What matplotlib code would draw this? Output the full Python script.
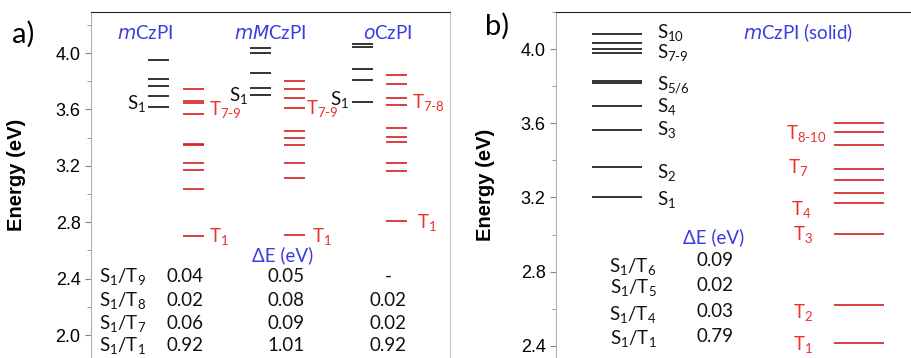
import matplotlib.pyplot as plt
from matplotlib.ticker import MultipleLocator

# -------- level energies (eV) --------
mczpi_s  = [3.948, 3.818, 3.766, 3.693, 3.615]
mczpi_t  = [3.743, 3.660, 3.643, 3.565, 3.355, 3.345, 3.222, 3.170, 3.035, 2.702]
mmczpi_s = [4.033, 4.002, 3.860, 3.750, 3.704]
mmczpi_t = [3.804, 3.743, 3.679, 3.612, 3.445, 3.397, 3.345, 3.218, 3.116, 2.709]
oczpi_s  = [4.066, 4.045, 3.884, 3.809, 3.650]
oczpi_t  = [3.842, 3.778, 3.679, 3.629, 3.466, 3.402, 3.371, 3.222, 3.161, 2.811]
solid_s  = [4.082, 4.031, 4.002, 3.977, 3.829, 3.818, 3.694, 3.563, 3.364, 3.201]
solid_t  = [3.599, 3.551, 3.482, 3.355, 3.294, 3.225, 3.171, 3.001, 2.620, 2.417]

# -------- S1-Tn gaps table --------
pairs_a    = ["S$_1$/T$_9$", "S$_1$/T$_8$", "S$_1$/T$_7$", "S$_1$/T$_1$"]
de_mczpi   = ["0.04", "0.02", "0.06", "0.92"]
de_mmczpi  = ["0.05", "0.08", "0.09", "1.01"]
de_oczpi   = ["-", "0.02", "0.02", "0.92"]
pairs_b    = ["S$_1$/T$_6$", "S$_1$/T$_5$", "S$_1$/T$_4$", "S$_1$/T$_1$"]
de_solid   = ["0.09", "0.02", "0.03", "0.79"]

BLACK = "#111111"
RED   = "#d81e1e"
RED_T = "#e8302c"
BLUE  = "#3b3be0"
TXT   = "Lato"

plt.rcParams["mathtext.default"] = "regular"
plt.rcParams["font.family"] = "Liberation Sans"

fig = plt.figure(figsize=(9.12, 3.58), dpi=100)
W, H = 912, 358

def make_axes(x0, x1, ylim):
    ax = fig.add_axes([x0 / W, 0, (x1 - x0) / W, 1 - 12 / H])
    ax.set_xlim(0, x1 - x0)
    ax.set_ylim(*ylim)
    ax.spines["bottom"].set_visible(False)
    ax.spines["left"].set_color("#b0b0b0")
    ax.spines["top"].set_color("#222222")
    ax.spines["right"].set_color("#c8c8c8")
    ax.set_xticks([])
    ax.yaxis.set_major_locator(MultipleLocator(0.4))
    ax.yaxis.set_minor_locator(MultipleLocator(0.2))
    ax.tick_params(axis="y", which="both", direction="out", color="#888888", labelsize=13)
    ax.tick_params(axis="y", which="major", length=4)
    ax.tick_params(axis="y", which="minor", length=3)
    ax.yaxis.set_major_formatter(plt.FormatStrFormatter("%.1f"))
    return ax

def txt(ax, x, y, s, color=BLACK, **kw):
    kw.setdefault("fontsize", 13.5)
    ax.text(x, y, s, color=color, family=TXT, **kw)

# ================= panel a =================
axa = make_axes(91, 450, (1.837, 4.291))
axa.set_ylabel("Energy (eV)", fontsize=14.5, fontweight="bold")
axa.yaxis.set_label_coords(-0.18, 0.53)

cols = [(mczpi_s, mczpi_t, 57, 92), (mmczpi_s, mmczpi_t, 159, 193), (oczpi_s, oczpi_t, 261, 295)]
for s, t, xs, xt in cols:
    axa.hlines(s, xs, xs + 21, color=BLACK, lw=1.2)
    axa.hlines(t, xt, xt + 21, color=RED, lw=1.2)

txt(axa, 54, 4.142, "$\\it{m}$CzPI", BLUE, ha="center", va="center")
txt(axa, 179, 4.142, "$\\it{mM}$CzPI", BLUE, ha="center", va="center")
txt(axa, 297, 4.142, "$\\it{o}$CzPI", BLUE, ha="center", va="center")

txt(axa, 55, 3.64, "S$_1$", ha="right", va="center")
txt(axa, 157, 3.70, "S$_1$", ha="right", va="center")
txt(axa, 258, 3.667, "S$_1$", ha="right", va="center")
txt(axa, 118, 3.60, "T$_{7\u20109}$", RED_T, va="center")
txt(axa, 215, 3.61, "T$_{7\u20109}$", RED_T, va="center")
txt(axa, 321, 3.65, "T$_{7\u20108}$", RED_T, va="center")
txt(axa, 118, 2.70, "T$_1$", RED_T, va="center")
txt(axa, 221, 2.70, "T$_1$", RED_T, va="center")
txt(axa, 326, 2.80, "T$_1$", RED_T, va="center")

txt(axa, 191.5, 2.567, "ΔE (eV)", BLUE, ha="center", va="center")
rows_a = [2.418, 2.248, 2.085, 1.929]
for i, y in enumerate(rows_a):
    txt(axa, 8, y, pairs_a[i], va="center")
    txt(axa, 94, y, de_mczpi[i], ha="center", va="center")
    txt(axa, 194.7, y, de_mmczpi[i], ha="center", va="center")
    txt(axa, 297, y, de_oczpi[i], ha="center", va="center")

# ================= panel b =================
axb = make_axes(556, 912, (2.334, 4.2))
axb.spines["right"].set_visible(False)
axb.set_ylabel("Energy (eV)", fontsize=14.5, fontweight="bold")
axb.yaxis.set_label_coords(-0.171, 0.5)

axb.hlines(solid_s, 36, 86, color=BLACK, lw=1.2)
axb.hlines(solid_t, 278, 328, color=RED, lw=1.2)

s_labels = ["S$_{10}$", "S$_{7\u20109}$", "S$_{5/6}$", "S$_4$", "S$_3$", "S$_2$", "S$_1$"]
s_label_y = [4.092, 3.982, 3.806, 3.69, 3.568, 3.337, 3.19]
for lab, y in zip(s_labels, s_label_y):
    txt(axb, 101, y, lab, va="center")

t_labels = ["T$_{8\u201010}$", "T$_7$", "T$_4$", "T$_3$", "T$_2$", "T$_1$"]
t_label_y = [3.547, 3.364, 3.137, 3.002, 2.581, 2.409]
t_label_x = [271, 252, 255, 257, 257, 257]
for lab, x, y in zip(t_labels, t_label_x, t_label_y):
    txt(axb, x, y, lab, RED_T, ha="right", va="center")

txt(axb, 242, 4.086, "$\\it{m}$CzPI (solid)", BLUE, ha="center", va="center")
txt(axb, 158, 2.988, "ΔE (eV)", BLUE, ha="center", va="center")
rows_b_lab = [2.826, 2.716, 2.571, 2.441]
rows_b_val = [2.862, 2.727, 2.583, 2.448]
for i in range(4):
    txt(axb, 77, rows_b_lab[i], pairs_b[i], ha="center", va="center")
    txt(axb, 159.5, rows_b_val[i], de_solid[i], ha="center", va="center")

# panel tags
fig.text(23 / W, 1 - 34 / H, "a)", fontsize=21, family=TXT, ha="center", va="center")
fig.text(497 / W, 1 - 26 / H, "b)", fontsize=21, family=TXT, ha="center", va="center")

fig.savefig("out.png", dpi=100)
